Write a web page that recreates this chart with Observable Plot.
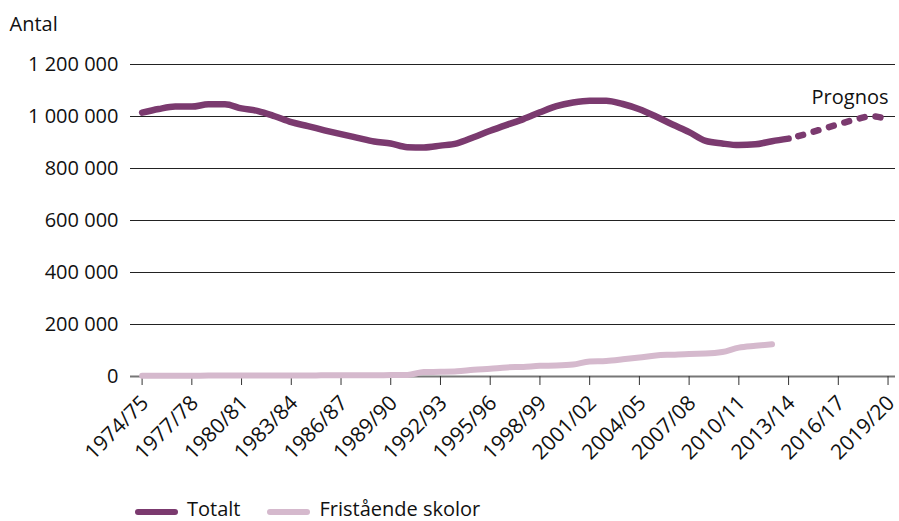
<!DOCTYPE html>
<html>
<head>
<meta charset="utf-8">
<script src="https://cdn.jsdelivr.net/npm/d3@7"></script>
<script src="https://cdn.jsdelivr.net/npm/@observablehq/plot@0.6"></script>
<style>
  body { margin: 0; background: #fff; font-family: "Open Sans", sans-serif; }
  #wrap { position: relative; width: 899px; height: 521px; }
  #legend { position: absolute; left: 135px; top: 501px; display: flex; align-items: center; font-size: 20px; line-height: 16px; height: 16px; color: #111; }
  #legend .sw { width: 43px; height: 6px; border-radius: 3px; margin-right: 9px; position: relative; top: 3px; }
  #legend .item { display: flex; align-items: center; margin-right: 27px; }
</style>
</head>
<body>
<div id="wrap">
  <div id="chart"></div>
  <div id="legend"></div>
</div>
<script>
// School years, 1974/75 to 2019/20
const years = [
  "1974/75","1975/76","1976/77","1977/78","1978/79","1979/80","1980/81","1981/82",
  "1982/83","1983/84","1984/85","1985/86","1986/87","1987/88","1988/89","1989/90",
  "1990/91","1991/92","1992/93","1993/94","1994/95","1995/96","1996/97","1997/98",
  "1998/99","1999/00","2000/01","2001/02","2002/03","2003/04","2004/05","2005/06",
  "2006/07","2007/08","2008/09","2009/10","2010/11","2011/12","2012/13","2013/14",
  "2014/15","2015/16","2016/17","2017/18","2018/19","2019/20"
];

// Total number of pupils, 1974/75 – 2013/14
const totalt = [
  1015000, 1029000, 1038000, 1038000, 1047000, 1047000, 1031000, 1021000,
  1001000, 978000, 963000, 947000, 932000, 918000, 904000, 896000,
  882000, 881000, 888000, 897000, 920000, 945000, 968000, 990000,
  1016000, 1040000, 1054000, 1061000, 1061000, 1048000, 1028000, 1000000,
  969000, 940000, 906000, 896000, 890000, 893000, 905000, 915000
];

// Forecast, 2013/14 – 2019/20
const prognos = [915000, 932000, 951000, 970000, 988000, 1001000, 988000];

// Pupils in independent schools, 1974/75 – 2012/13
const fristaende = [
  3000, 3000, 3000, 3000, 3500, 3500, 3500, 3500,
  4000, 4000, 4000, 4500, 4500, 5000, 5000, 5500,
  6000, 17000, 18000, 20000, 26000, 30000, 35000, 37000,
  41000, 42000, 46000, 58000, 60000, 66000, 73000, 81000,
  84000, 87000, 88000, 94000, 111000, 118000, 124000
];

const tickYears = [
  "1974/75","1977/78","1980/81","1983/84","1986/87","1989/90","1992/93","1995/96",
  "1998/99","2001/02","2004/05","2007/08","2010/11","2013/14","2016/17","2019/20"
];
const yTicks = [0, 200000, 400000, 600000, 800000, 1000000, 1200000];

const colTotalt = "#7b3a6f";
const colFri = "#d5b9cd";

const idx = y => years.indexOf(y);
const totRows = totalt.map((v, i) => ({i, v}));
const progRows = prognos.map((v, k) => ({i: idx("2013/14") + k, v}));
const friRows = fristaende.map((v, i) => ({i, v}));
const tickIdx = tickYears.map(idx);

const fmt = v => d3.format(",")(v).replace(/,/g, " ");

const chart = Plot.plot({
  width: 899,
  height: 490,
  marginLeft: 130,
  marginRight: 4,
  marginTop: 64,
  marginBottom: 114,
  style: {fontFamily: "'Open Sans', sans-serif", fontSize: "20px", color: "#111", background: "#fff"},
  x: {type: "linear", domain: [-0.7, 45.45]},
  y: {domain: [0, 1200000]},
  marks: [
    Plot.gridY(yTicks.filter(d => d > 0), {stroke: "#222", strokeOpacity: 1, strokeWidth: 1}),
    Plot.ruleY([0], {stroke: "#777", strokeWidth: 2}),
    Plot.axisY(yTicks, {tickSize: 0, tickPadding: 12, tickFormat: fmt, label: null, fill: "#111"}),
    // tick marks
    Plot.axisX(tickIdx, {tickSize: 9, tickFormat: () => "", stroke: "#333", label: null}),
    // rotated year labels
    Plot.axisX(tickIdx, {
      tickFormat: i => years[i], tickRotate: -45, tickSize: 0, tickPadding: 11,
      label: null, fill: "#111", fontSize: 21, dx: 3, dy: 12
    }),
    Plot.line(friRows, {x: "i", y: "v", stroke: colFri, strokeWidth: 6, curve: "monotone-x", strokeLinecap: "round"}),
    Plot.line(totRows, {x: "i", y: "v", stroke: colTotalt, strokeWidth: 6.5, curve: "monotone-x", strokeLinecap: "round"}),
    Plot.line(progRows, {x: "i", y: "v", stroke: colTotalt, strokeWidth: 6.5, curve: "monotone-x",
      strokeLinecap: "round", strokeDasharray: "5,11", strokeDashoffset: -10}),
    Plot.text(["Prognos"], {frameAnchor: "top-right", dx: -7, dy: 39, lineAnchor: "bottom", textAnchor: "end", fill: "#111"}),
    Plot.text(["Antal"], {frameAnchor: "top-left", dx: -121, dy: -34, lineAnchor: "bottom", textAnchor: "start", fill: "#111"})
  ]
});
document.getElementById("chart").appendChild(chart);

// Legend
const legend = document.getElementById("legend");
[["Totalt", colTotalt], ["Fristående skolor", colFri]].forEach(([name, col]) => {
  const item = document.createElement("div");
  item.className = "item";
  const sw = document.createElement("span");
  sw.className = "sw";
  sw.style.background = col;
  const t = document.createElement("span");
  t.textContent = name;
  item.append(sw, t);
  legend.appendChild(item);
});
</script>
</body>
</html>
